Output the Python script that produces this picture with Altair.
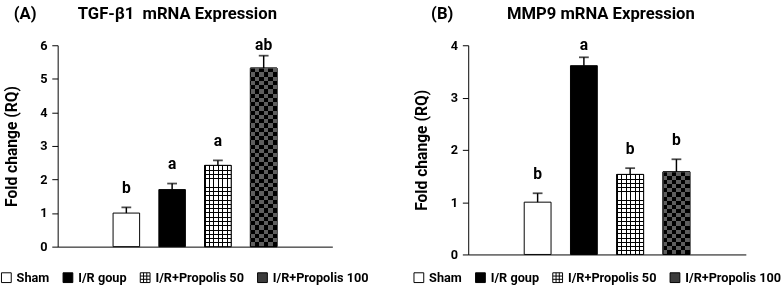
import altair as alt
import pandas as pd

# ---------------- data ----------------
groups = ["Sham", "I/R goup", "I/R+Propolis 50", "I/R+Propolis 100"]

tgf_values = [1.00, 1.70, 2.42, 5.32]
tgf_errors = [0.17, 0.18, 0.15, 0.37]
tgf_letters = ["b", "a", "a", "ab"]

mmp_values = [1.00, 3.61, 1.53, 1.58]
mmp_errors = [0.17, 0.16, 0.12, 0.24]
mmp_letters = ["b", "a", "b", "b"]

# ---------------- styling ----------------
FONT = "Roboto"
legend_fills = ["#ffffff", "#000000", "#ffffff", "#3c3c3c"]
CHECK_GRAY = "#5e5e5e"
PAD_INNER = 0.42
CELL = 4.3  # px size of pattern cells
# empty slots at both ends of the category axis (as in the original)
x_domain = ["pad_left"] + groups + ["pad_right"]
# legend swatch shape for the grid entry (unit-square path)
GRID_PATH = ("M-1,-1H1V1H-1Z M-0.33,-1V1 M0.33,-1V1 "
             "M-1,-0.33H1 M-1,0.33H1")


def r4(v):
    return round(min(max(v, 0.0), 1.0), 4)


def line_gradient(n, line_frac, along_x, bg, fg):
    stops = []
    for k in range(n):
        a = k / n
        b = a + line_frac
        c = (k + 1) / n
        stops += [
            {"offset": r4(a), "color": fg},
            {"offset": r4(b), "color": fg},
            {"offset": r4(b), "color": bg},
            {"offset": r4(c), "color": bg},
        ]
    g = {"gradient": "linear", "stops": stops}
    if along_x:
        g.update({"x1": 0, "y1": 0, "x2": 1, "y2": 0})
    else:
        g.update({"x1": 0, "y1": 0, "x2": 0, "y2": 1})
    return g


def stripe_gradient(n, along_x, c1, c2):
    stops = []
    for k in range(n):
        col = c1 if k % 2 == 0 else c2
        stops += [
            {"offset": r4(k / n), "color": col},
            {"offset": r4((k + 1) / n), "color": col},
        ]
    g = {"gradient": "linear", "stops": stops}
    if along_x:
        g.update({"x1": 0, "y1": 0, "x2": 1, "y2": 0})
    else:
        g.update({"x1": 0, "y1": 0, "x2": 0, "y2": 1})
    return g


def panel(values, errors, letters, ymax, width, height, label, title,
          title_dx, title_offset, legend_x, legend_y):
    df = pd.DataFrame({"group": groups, "value": values, "err": errors,
                       "letter": letters})
    px_per_unit = height / ymax
    step = width / len(x_domain)
    bandwidth = step * (1 - PAD_INNER)
    n_cols = max(2, round(bandwidth / CELL))
    line_frac_x = 1.0 / bandwidth

    base = alt.Chart(df)
    x = alt.X("group:N",
              scale=alt.Scale(domain=x_domain, paddingInner=PAD_INNER,
                              paddingOuter=PAD_INNER / 2),
              axis=alt.Axis(labels=False, ticks=False, title=None,
                            domainColor="black", domainWidth=1))

    def Y(field):
        return alt.Y(f"{field}:Q",
                     scale=alt.Scale(domain=[0, ymax], nice=False),
                     title="Fold change (RQ)",
                     axis=alt.Axis(values=list(range(ymax + 1)), grid=False,
                                   domainColor="black", tickColor="black",
                                   tickSize=6, labelPadding=5,
                                   titlePadding=21))

    legend = alt.Legend(
        title=None, orient="none", legendX=legend_x, legendY=legend_y,
        direction="horizontal",
        symbolType=alt.ExprRef(
            f"datum.value === '{groups[2]}' ? '{GRID_PATH}' : 'square'"),
        symbolSize=100,
        symbolStrokeColor="black", symbolStrokeWidth=1, symbolOpacity=1,
        labelFont=FONT, labelFontSize=13, labelFontWeight="bold",
        labelColor="black", columnPadding=11, labelOffset=4)

    bars = base.mark_bar(stroke="black", strokeWidth=1).encode(
        x=x, y=Y("value"),
        fill=alt.Fill("group:N", sort=groups,
                      scale=alt.Scale(domain=groups, range=legend_fills),
                      legend=legend))

    layers = [bars]

    # grid pattern bar
    p50 = groups[2]
    p50_val = values[2]
    n_rows50 = max(2, round(p50_val * px_per_unit / CELL))
    layers.append(base.mark_bar(
        fill=line_gradient(n_cols, line_frac_x, True, "#ffffff", "#000000"),
        strokeWidth=0).encode(x=x, y=Y("value")).transform_filter(
        alt.datum.group == p50))
    layers.append(base.mark_bar(
        fill=line_gradient(n_rows50, 1.0 / (p50_val * px_per_unit), False,
                           "rgba(0,0,0,0)", "#000000"),
        stroke="black", strokeWidth=1).encode(x=x, y=Y("value")).transform_filter(
        alt.datum.group == p50))

    # checkerboard bar (vertical stripes XOR horizontal stripes)
    p100 = groups[3]
    p100_val = values[3]
    n_rows100 = max(2, round(p100_val * px_per_unit / CELL))
    layers.append(base.mark_bar(
        fill=stripe_gradient(n_cols, True, CHECK_GRAY, "#000000"),
        stroke="black", strokeWidth=1).encode(x=x, y=Y("value")).transform_filter(
        alt.datum.group == p100))
    layers.append(base.mark_bar(
        fill=stripe_gradient(n_rows100, False, CHECK_GRAY, "#000000"),
        strokeWidth=0, blend="difference").encode(
        x=x, y=Y("value")).transform_filter(alt.datum.group == p100))

    # error bars (upper only, with cap)
    layers.append(base.mark_rule(color="black", strokeWidth=1.5).encode(
        x=x, y=Y("value"), y2="top:Q").transform_calculate(
        top="datum.value + datum.err"))
    layers.append(base.mark_tick(color="black", thickness=1.8, size=10).encode(
        x=x, y=Y("top")).transform_calculate(top="datum.value + datum.err"))

    # significance letters
    k = 20.0 / px_per_unit
    layers.append(base.mark_text(font=FONT, fontSize=16, fontWeight="bold",
                                 color="black", baseline="middle").encode(
        x=x, y=Y("ly"), text="letter:N").transform_calculate(
        ly=f"min(datum.value + datum.err + {k}, {ymax})"))

    nb = "\u00a0"
    title_text = label + nb * title[1] + title[0]
    return alt.layer(*layers).properties(
        width=width, height=height,
        title=alt.TitleParams(text=title_text, anchor="start", frame="group",
                              dx=title_dx, offset=title_offset,
                              baseline="bottom",
                              font=FONT, fontSize=17, fontWeight="bold",
                              color="black"))


left = panel(tgf_values, tgf_errors, tgf_letters, 6, 281, 206, "(A)",
             ("TGF-β1" + "\u00a0\u00a0" + "mRNA Expression", 10), -45, -2,
             -59, 231)
right = panel(mmp_values, mmp_errors, mmp_letters, 4, 284, 214, "(B)",
              ("MMP9 mRNA Expression", 13), -38, -2, -57, 231)

chart = alt.hconcat(left, right, spacing=139, bounds="flush").resolve_scale(
    fill="independent", y="independent", x="independent"
).properties(
    padding={"left": 0, "top": 2, "right": 0, "bottom": 0}
).configure_view(stroke=None).configure_axis(
    labelFont=FONT, labelFontSize=13, labelFontWeight="bold",
    labelColor="black", titleFont=FONT, titleFontSize=16,
    titleFontWeight="bold", titleColor="black"
)

chart.save("out.html", embed_options={"renderer": "svg", "actions": False})
